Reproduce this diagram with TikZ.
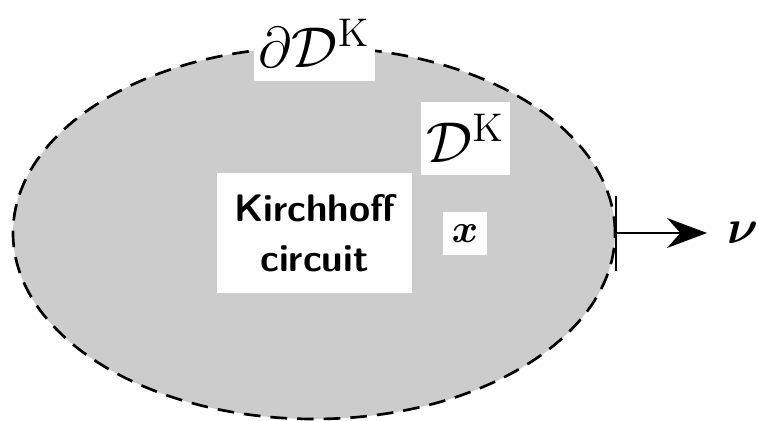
\documentclass[tikz,border=0pt]{standalone}
\usepackage{amsmath}
\usetikzlibrary{shapes.geometric, arrows.meta}
\tikzstyle{region} = [ellipse, draw=black, dash pattern=on 5pt off 3pt, line width=0.8pt, fill=black!20, minimum width=180.6pt, minimum height=111.6pt, inner sep=0pt]
\tikzstyle{whitebox} = [rectangle, fill=white, inner sep=0pt, text centered]
\tikzstyle{tick} = [line width=0.6pt]
\tikzstyle{arrow} = [line width=0.6pt, -{Stealth[length=12pt, width=9pt, inset=4pt]}]

\begin{document}
\begin{tikzpicture}[x=0.3pt, y=-0.3pt]
\useasboundingbox (0,0) rectangle (758,420);

\node (domain) [region] at (314,233) {};

\node (bdry) [whitebox, minimum width=36.3pt, minimum height=22.5pt] at (314.5,43.5) {\LARGE$\partial\mathcal{D}^{\mathrm{K}}$};

\node (dom) [whitebox, minimum width=26.7pt, minimum height=21.9pt] at (465.5,138.5) {\LARGE$\mathcal{D}^{\mathrm{K}}$};

\node (kirch) [whitebox, minimum width=58.5pt, minimum height=36pt, align=center, font=\fontsize{11.5}{15}\selectfont\sffamily\bfseries] at (314.5,233) {Kirchhoff\\circuit};

\node (xpt) [whitebox, minimum width=13.2pt, minimum height=12.9pt] at (465,233.5) {\large$\boldsymbol{x}$};

\node (nu) [anchor=west, inner sep=0pt] at (727,233) {\Large$\boldsymbol{\nu}$};

\draw [tick] ([yshift=11.25pt]domain.east) -- ([yshift=-11.25pt]domain.east);
\draw [arrow, shorten >=6pt] (domain.east) -- (nu.west);
\end{tikzpicture}
\end{document}
